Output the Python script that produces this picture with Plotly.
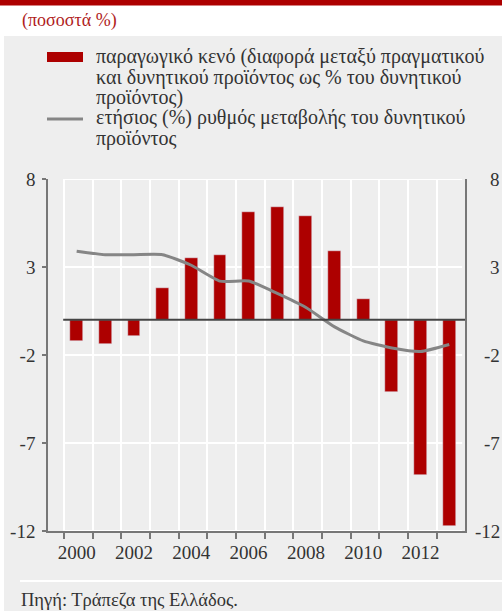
import plotly.graph_objects as go

# data
years = list(range(2000, 2014))
output_gap = [-1.2, -1.4, -0.9, 1.8, 3.5, 3.7, 6.1, 6.4, 5.9, 3.9, 1.2, -4.1, -8.8, -11.7]
potential_growth = [3.9, 3.7, 3.7, 3.7, 3.1, 2.2, 2.2, 1.5, 0.7, -0.4, -1.2, -1.6, -1.8, -1.4]
y_ticks = [8, 3, -2, -7, -12]
x_ticks = [2000, 2002, 2004, 2006, 2008, 2010, 2012]

unit_label = "(ποσοστά %)"
legend_bar = ["παραγωγικό κενό (διαφορά μεταξύ πραγματικού",
              "και δυνητικού προϊόντος ως % του δυνητικού",
              "προϊόντος)"]
legend_line = ["ετήσιος (%) ρυθμός μεταβολής του δυνητικού",
               "προϊόντος"]
source = "Πηγή: Τράπεζα της Ελλάδος."

RED = "#ad0000"
GREY_LINE = "#858585"
TEXT = "#333333"
FONT = "Liberation Serif"

W, H = 502, 611
L, R, T, B = 48, 37, 179, 80


# pixel -> paper coordinates
def xp(px):
    return (px - L) / (W - L - R)


def yp(py):
    return (H - B - py) / (H - T - B)


fig = go.Figure()
fig.add_trace(go.Bar(x=years, y=output_gap, width=0.45, marker_color=RED,
                     showlegend=False))
fig.add_trace(go.Scatter(x=years, y=potential_growth, mode="lines",
                         line=dict(color=GREY_LINE, width=3, shape="spline", smoothing=0.5),
                         showlegend=False))

shapes = [
    # grey panel and top banner
    dict(type="rect", xref="paper", yref="paper", x0=xp(4), x1=xp(W), y0=yp(36), y1=yp(H),
         fillcolor="#eeeeee", line_width=0, layer="below"),
    dict(type="rect", xref="paper", yref="paper", x0=xp(0), x1=xp(W), y0=yp(0), y1=yp(5.5),
         fillcolor=RED, line_width=0, layer="below"),
    # footer separator
    dict(type="line", xref="paper", yref="paper", x0=xp(20), x1=xp(W), y0=yp(581), y1=yp(581),
         line=dict(color="white", width=2), layer="below"),
    # legend symbols
    dict(type="rect", xref="paper", yref="paper", x0=xp(47), x1=xp(83), y0=yp(52), y1=yp(62),
         fillcolor=RED, line_width=0),
    dict(type="line", xref="paper", yref="paper", x0=xp(47), x1=xp(83), y0=yp(119), y1=yp(119),
         line=dict(color=GREY_LINE, width=3)),
]
for v in y_ticks:
    shapes.append(dict(type="line", xref="x", yref="y", x0=1999.56, x1=2013.45, y0=v, y1=v,
                       line=dict(color="white", width=2), layer="between"))
shapes.append(dict(type="line", xref="x", yref="y", x0=1999.53, x1=2013.55, y0=0, y1=0,
                   line=dict(color="#444444", width=2)))

annotations = [
    dict(text=unit_label, xref="paper", yref="paper", x=xp(20), y=yp(21), xanchor="left",
         yanchor="middle", showarrow=False, font=dict(family=FONT, size=18, color="#b01c1c")),
    dict(text=source, xref="paper", yref="paper", x=xp(19), y=yp(600), xanchor="left",
         yanchor="middle", showarrow=False, font=dict(family=FONT, size=18.5, color=TEXT)),
]
for i, line in enumerate(legend_bar + legend_line):
    annotations.append(dict(text=line, xref="paper", yref="paper", x=xp(94), y=yp(57 + 20.3 * i),
                            xanchor="left", yanchor="middle", showarrow=False,
                            font=dict(family=FONT, size=20, color=TEXT)))
# right-hand axis labels, right aligned as in the original
for v in y_ticks:
    annotations.append(dict(text=str(v), xref="paper", yref="y", x=xp(502), y=v,
                            xanchor="right", yanchor="middle", showarrow=False,
                            font=dict(family=FONT, size=19, color=TEXT)))

fig.update_layout(
    width=W, height=H,
    margin=dict(l=L, r=R, t=T, b=B, pad=0),
    paper_bgcolor="white",
    plot_bgcolor="rgba(0,0,0,0)",
    font=dict(family=FONT, size=19, color=TEXT),
    shapes=shapes,
    annotations=annotations,
    bargap=0,
)
fig.update_xaxes(
    range=[1999.0, 2013.55], automargin=False,
    tickvals=x_ticks, ticktext=[str(x) for x in x_ticks],
    ticks="", showgrid=False, zeroline=False,
    showline=True, linecolor="#777777", linewidth=1.5,
    ticklabelstandoff=3,
    minor=dict(tick0=1999.56, dtick=1, ticks="outside", ticklen=6, tickwidth=1.5,
               tickcolor="#777777", showgrid=True, gridcolor="white", gridwidth=2),
)
fig.update_yaxes(
    range=[-12, 8], automargin=False,
    tickvals=y_ticks, ticktext=[str(v) for v in y_ticks],
    ticks="outside", ticklen=4, tickcolor="#777777", tickwidth=1.5,
    showgrid=False, zeroline=False,
    showline=True, linecolor="#777777", linewidth=1.5, mirror=True,
    ticklabelstandoff=3,
)

# the page's default body margin would shift and clip the figure
fig.write_html("out.html", config={"displayModeBar": False},
               post_script="document.body.style.margin = '0';")
